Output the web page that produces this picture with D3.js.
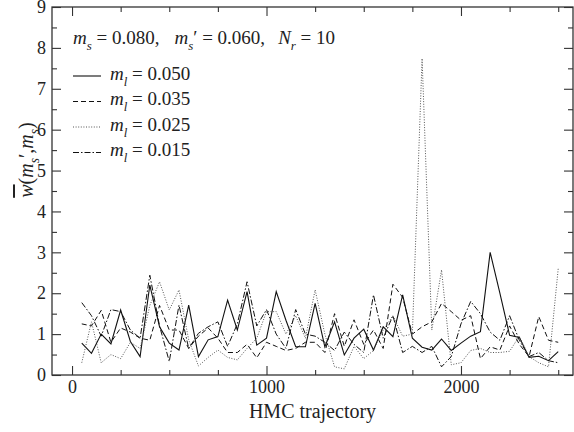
<!DOCTYPE html>
<html>
<head>
<meta charset="utf-8">
<script src="https://cdn.jsdelivr.net/npm/d3@7"></script>
<style>
  body { margin: 0; background: #fff; }
  svg text { font-family: "Liberation Serif", "Times New Roman", Times, serif; fill: #222; }
</style>
</head>
<body>
<div id="chart"></div>
<script>
// HMC trajectory numbers (every 50)
var trajectory = [50, 100, 150, 200, 250, 300, 350, 400, 450, 500,
  550, 600, 650, 700, 750, 800, 850, 900, 950, 1000,
  1050, 1100, 1150, 1200, 1250, 1300, 1350, 1400, 1450, 1500,
  1550, 1600, 1650, 1700, 1750, 1800, 1850, 1900, 1950, 2000,
  2050, 2100, 2150, 2200, 2250, 2300, 2350, 2400, 2450, 2500];

// reweighting factor for each light quark mass
var w050 = [0.78, 0.53, 1.00, 0.76, 1.59, 0.82, 0.45, 2.20, 1.18, 0.78,
  0.61, 1.71, 0.45, 0.86, 0.94, 1.83, 1.10, 2.04, 0.73, 0.90,
  2.04, 1.34, 0.69, 0.69, 1.75, 0.69, 1.30, 0.49, 0.90, 1.12,
  0.61, 1.18, 0.94, 1.96, 0.90, 0.68, 0.61, 0.88, 0.60, 0.78,
  0.95, 1.06, 3.00, 2.00, 0.97, 0.92, 0.43, 0.46, 0.35, 0.57];
var w035 = [1.25, 1.20, 1.58, 0.80, 1.15, 1.05, 0.90, 0.85, 1.70, 1.10,
  1.10, 0.65, 0.95, 1.15, 0.90, 0.55, 0.55, 0.75, 0.42, 0.80,
  0.70, 0.60, 0.65, 0.80, 0.80, 0.55, 1.50, 0.70, 1.35, 0.75,
  1.10, 0.65, 2.22, 1.90, 1.00, 1.18, 1.30, 1.75, 1.55, 1.34,
  1.45, 0.40, 0.69, 0.61, 1.20, 0.75, 0.45, 1.43, 0.85, 0.80];
var w025 = [0.30, 1.30, 0.30, 0.50, 0.40, 0.80, 0.65, 1.70, 2.28, 1.59,
  2.08, 0.86, 0.22, 0.43, 0.61, 0.43, 0.37, 0.65, 0.90, 1.55,
  1.55, 1.00, 1.45, 0.90, 2.08, 1.00, 0.20, 0.15, 0.70, 0.40,
  0.60, 1.10, 1.45, 0.95, 1.00, 7.74, 1.10, 2.57, 0.25, 0.30,
  0.60, 0.65, 0.55, 0.55, 0.58, 0.95, 0.45, 0.30, 0.20, 2.60];
var w015 = [1.77, 1.45, 0.95, 1.60, 1.55, 1.10, 0.90, 2.44, 1.20, 0.33,
  1.71, 0.65, 1.02, 1.18, 1.30, 0.70, 1.25, 2.28, 1.20, 1.60,
  1.00, 0.65, 1.60, 1.00, 0.95, 0.80, 0.60, 1.05, 0.75, 0.55,
  1.96, 0.90, 1.45, 0.55, 0.70, 0.55, 0.70, 0.20, 0.45, 1.25,
  1.80, 1.50, 1.05, 0.85, 1.45, 0.85, 0.45, 0.55, 0.35, 0.30];

var massLabels = ["0.050", "0.035", "0.025", "0.015"];
var xTicks = [0, 1000, 2000];
var xMinorTicks = [250, 500, 750, 1250, 1500, 1750, 2250, 2500];
var yTicks = [0, 1, 2, 3, 4, 5, 6, 7, 8, 9];
var yMinorTicks = [0.5, 1.5, 2.5, 3.5, 4.5, 5.5, 6.5, 7.5, 8.5];

var serif = "Liberation Serif, Times New Roman, serif";

var svgWidth = 574;
var svgHeight = 432;
var margin = { top: 7, right: 1, bottom: 57, left: 52 };
var width = svgWidth - margin.left - margin.right;
var height = svgHeight - margin.top - margin.bottom;

var svg = d3.select("#chart").append("svg")
  .attr("width", svgWidth)
  .attr("height", svgHeight)
  .attr("font-family", serif);

var chartGroup = svg.append("g")
  .attr("transform", `translate(${margin.left}, ${margin.top})`);

var xScale = d3.scaleLinear().domain([-103, 2576]).range([0, width]);
var yScale = d3.scaleLinear().domain([0, 9]).range([height, 0]);

var series = [
  { values: w050, dash: null, color: "#111", w: 1.1 },
  { values: w035, dash: "5,3", color: "#111", w: 1.0 },
  { values: w025, dash: "1,1.6", color: "#555", w: 1.0 },
  { values: w015, dash: "6,2,1.5,2", color: "#111", w: 1.0 }
];

var line = d3.line()
  .x(d => xScale(d[0]))
  .y(d => yScale(d[1]));

chartGroup.append("defs").append("clipPath").attr("id", "clip")
  .append("rect").attr("width", width).attr("height", height);

var linesGroup = chartGroup.append("g").attr("clip-path", "url(#clip)");
series.forEach(function(s) {
  linesGroup.append("path")
    .datum(trajectory.map((t, i) => [t, s.values[i]]))
    .attr("d", line)
    .attr("fill", "none")
    .attr("stroke", s.color)
    .attr("stroke-width", s.w)
    .attr("stroke-dasharray", s.dash);
});

// axes: ticks point inward on all four sides
function styleAxis(g) {
  g.attr("font-family", serif).attr("font-size", 18);
  g.select(".domain").remove();
  g.selectAll(".tick line").attr("stroke", "#333").attr("stroke-width", 1.1);
  g.selectAll("text").attr("fill", "#222");
}

chartGroup.append("g")
  .attr("transform", `translate(0, ${height})`)
  .call(d3.axisBottom(xScale).tickValues(xTicks).tickFormat(d3.format("d"))
    .tickSizeInner(-9).tickSizeOuter(0).tickPadding(5))
  .call(styleAxis);
chartGroup.append("g")
  .attr("transform", `translate(0, ${height})`)
  .call(d3.axisBottom(xScale).tickValues(xMinorTicks).tickSizeInner(-5).tickSizeOuter(0).tickFormat(""))
  .call(styleAxis);
chartGroup.append("g")
  .call(d3.axisTop(xScale).tickValues(xTicks).tickSizeInner(-9).tickSizeOuter(0).tickFormat(""))
  .call(styleAxis);
chartGroup.append("g")
  .call(d3.axisTop(xScale).tickValues(xMinorTicks).tickSizeInner(-5).tickSizeOuter(0).tickFormat(""))
  .call(styleAxis);

chartGroup.append("g")
  .call(d3.axisLeft(yScale).tickValues(yTicks).tickFormat(d3.format("d"))
    .tickSizeInner(-9).tickSizeOuter(0).tickPadding(6))
  .call(styleAxis);
chartGroup.append("g")
  .call(d3.axisLeft(yScale).tickValues(yMinorTicks).tickSizeInner(-5).tickSizeOuter(0).tickFormat(""))
  .call(styleAxis);
chartGroup.append("g")
  .attr("transform", `translate(${width}, 0)`)
  .call(d3.axisRight(yScale).tickValues(yTicks).tickSizeInner(-9).tickSizeOuter(0).tickFormat(""))
  .call(styleAxis);
chartGroup.append("g")
  .attr("transform", `translate(${width}, 0)`)
  .call(d3.axisRight(yScale).tickValues(yMinorTicks).tickSizeInner(-5).tickSizeOuter(0).tickFormat(""))
  .call(styleAxis);

// frame
chartGroup.append("rect")
  .attr("width", width).attr("height", height)
  .attr("fill", "none").attr("stroke", "#333").attr("stroke-width", 1.3);

// rich text helper: parts = [text, italic, subscript, overline, dx]
function richText(parent, x, y, size, parts) {
  var t = parent.append("text").attr("x", x).attr("y", y)
    .attr("font-size", size).attr("font-family", serif);
  var shifted = false;
  parts.forEach(function(p) {
    var span = t.append("tspan").text(p[0]);
    if (p[1]) span.attr("font-style", "italic");
    if (p[2]) {
      span.attr("font-size", size * 0.68);
      if (!shifted) { span.attr("dy", size * 0.32); shifted = true; }
    } else if (shifted) {
      span.attr("dy", -size * 0.32); shifted = false;
    }
    if (p[3]) span.style("text-decoration", "overline");
    if (p[4]) span.attr("dx", p[4]);
  });
  return t;
}

richText(svg, 73, 44, 19, [
  ["m", true], ["s", true, true], [" = 0.080,"],
  ["m", true, false, false, 15], ["s", true, true], ["\u2032 = 0.060,"],
  ["N", true, false, false, 13], ["r", true, true], [" = 10"]
]);

// legend
var legendY = [76, 101.5, 127, 152.5];
series.forEach(function(s, i) {
  svg.append("line")
    .attr("x1", 73).attr("x2", 101)
    .attr("y1", legendY[i]).attr("y2", legendY[i])
    .attr("stroke", s.color).attr("stroke-width", s.w)
    .attr("stroke-dasharray", s.dash);
  richText(svg, 110, legendY[i] + 3.5, 19, [["m", true], ["l", true, true], [" = " + massLabels[i]]]);
});

// axis titles
svg.append("text")
  .attr("x", margin.left + width / 2).attr("y", 418)
  .attr("text-anchor", "middle").attr("font-size", 20)
  .text("HMC trajectory");

var yTitle = svg.append("g").attr("transform", "translate(33, 160) rotate(-90)");
richText(yTitle, 0, 0, 20, [
  ["w", true, false, true], ["("], ["m", true], ["s", true, true], ["\u2032,"], ["m", true], ["s", true, true], [")"]
]).attr("text-anchor", "middle");
</script>
</body>
</html>
